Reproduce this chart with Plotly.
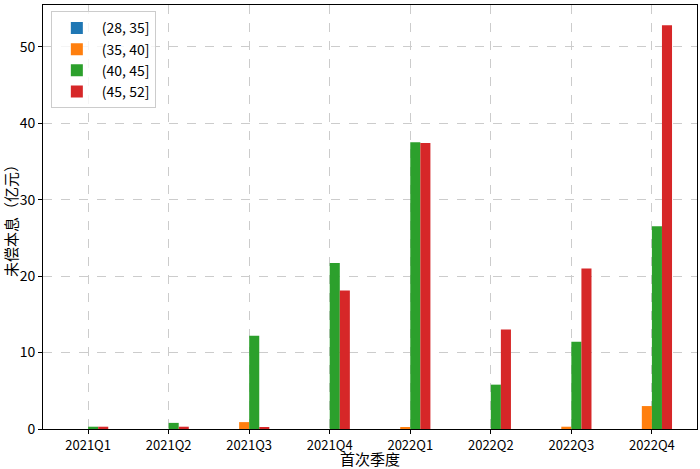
import plotly.graph_objects as go

quarters = ["2021Q1", "2021Q2", "2021Q3", "2021Q4", "2022Q1", "2022Q2", "2022Q3", "2022Q4"]
s_28_35 = [0, 0, 0, 0, 0, 0, 0, 0]
s_35_40 = [0, 0, 0.9, 0, 0.15, 0, 0.3, 3.0]
s_40_45 = [0.3, 0.8, 12.2, 21.7, 37.5, 5.8, 11.4, 26.5]
s_45_52 = [0.3, 0.3, 0.2, 18.1, 37.4, 13.0, 21.0, 52.8]
names = ["(28, 35]", "(35, 40]", "(40, 45]", "(45, 52]"]
colors = ["#1f77b4", "#ff7f0e", "#2ca02c", "#d62728"]

font = "Noto Sans CJK SC, sans-serif"
fig = go.Figure()
for name, vals, c in zip(names, [s_28_35, s_35_40, s_40_45, s_45_52], colors):
    fig.add_trace(go.Bar(x=quarters, y=vals, name=name, marker=dict(color=c, line=dict(width=0))))

fig.update_layout(
    width=700, height=469,
    margin=dict(l=43, r=3, t=5, b=40),
    barmode="group", bargap=0.5, bargroupgap=0,
    plot_bgcolor="white", paper_bgcolor="white",
    font=dict(family=font, size=14, color="black"),
    showlegend=True,
    legend=dict(x=0.012, y=0.985, xanchor="left", yanchor="top",
                bgcolor="rgba(255,255,255,0.8)", bordercolor="#cccccc", borderwidth=1,
                font=dict(size=14, family=font), itemwidth=40),
    xaxis=dict(range=[-0.56, 7.56], showline=True, linecolor="black", mirror=True,
               ticks="outside", ticklen=4, tickcolor="black",
               showgrid=True, gridcolor="#cccccc", griddash="dash",
               title=dict(text="首次季度", font=dict(size=15), standoff=1),
               tickfont=dict(size=13)),
    yaxis=dict(range=[0, 55.45], showline=True, linecolor="black", mirror=True,
               ticks="outside", ticklen=4, tickcolor="black", dtick=10,
               showgrid=True, gridcolor="#cccccc", griddash="dash", zeroline=False,
               title=dict(text="未偿本息（亿元）", font=dict(size=15), standoff=6),
               tickfont=dict(size=14)),
)
fig.write_html("out.html", config={"displayModeBar": False},
               post_script="document.body.style.margin='0';")
